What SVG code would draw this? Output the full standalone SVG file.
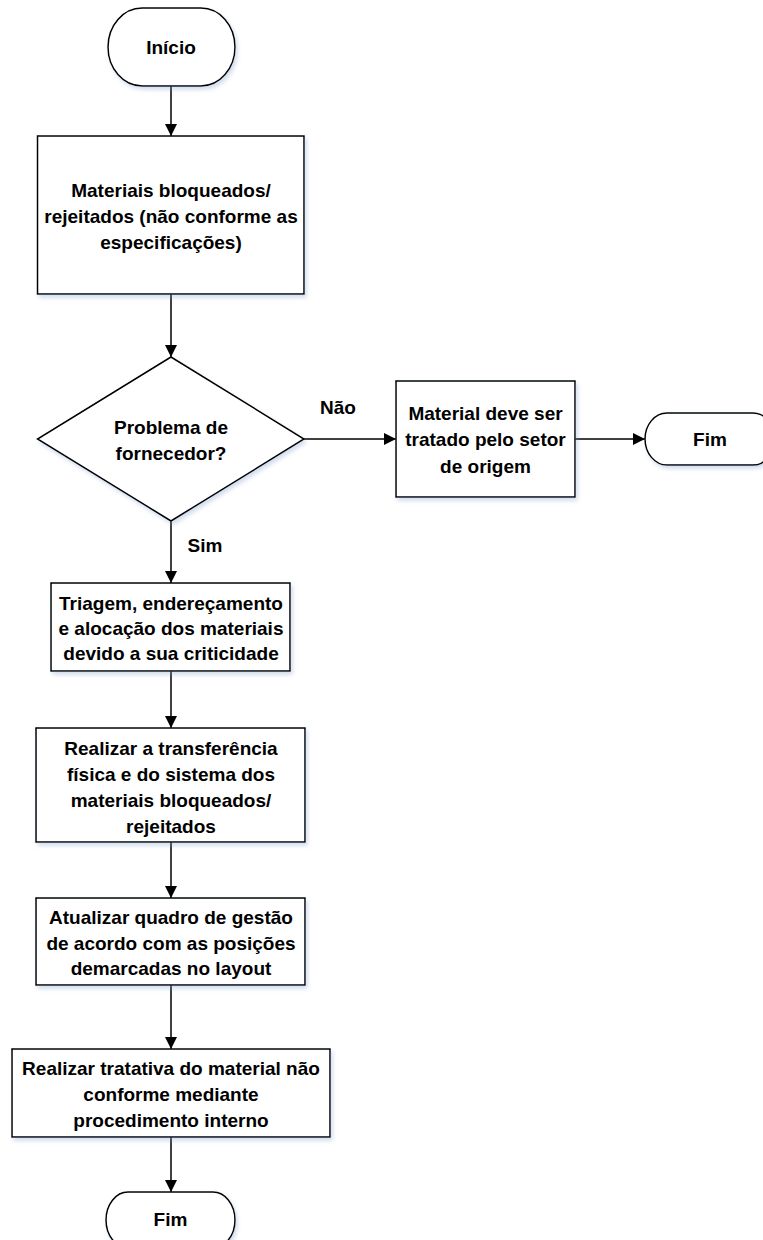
<svg xmlns="http://www.w3.org/2000/svg" width="763" height="1240" viewBox="0 0 763 1240">
<defs>
<style>
.shape{fill:#ffffff;stroke:#000000;stroke-width:1.5;filter:url(#sh);}
.t{font-family:"Liberation Sans",Arial,sans-serif;font-weight:bold;font-size:19px;fill:#000000;text-anchor:middle;}
.c{fill:none;stroke:#000000;stroke-width:1.5;marker-end:url(#arr);}
</style>
<filter id="sh" x="-10%" y="-10%" width="125%" height="130%">
<feDropShadow dx="2" dy="3" stdDeviation="2" flood-color="#7f9cc9" flood-opacity="0.35"/>
</filter>
<marker id="arr" markerUnits="userSpaceOnUse" markerWidth="12" markerHeight="12" refX="12" refY="6" orient="auto">
<path d="M0,0 L12,6 L0,12 z" fill="#000000"/>
</marker>
</defs>
<rect width="763" height="1240" fill="#ffffff"/>

<g id="connectors">
<line class="c" x1="171" y1="86" x2="171" y2="136"/>
<line class="c" x1="171" y1="294" x2="171" y2="357"/>
<line class="c" x1="304" y1="439" x2="396" y2="439"/>
<line class="c" x1="575" y1="439" x2="645" y2="439"/>
<line class="c" x1="171" y1="521" x2="171" y2="583"/>
<line class="c" x1="171" y1="671" x2="171" y2="728"/>
<line class="c" x1="171" y1="842" x2="171" y2="898"/>
<line class="c" x1="171" y1="985" x2="171" y2="1049"/>
<line class="c" x1="171" y1="1137" x2="171" y2="1192"/>
<text class="t" x="338" y="414">Não</text>
<text class="t" x="205" y="552">Sim</text>
</g>

<g id="inicio">
<rect class="shape" x="108" y="8" width="127" height="78" rx="34" ry="39"/>
<text class="t" x="171" y="54">Início</text>
</g>

<g id="materiais">
<rect class="shape" x="37.5" y="136" width="266.5" height="158"/>
<text class="t" x="171" y="196.5">Materiais bloqueados/</text>
<text class="t" x="171" y="222.5">rejeitados (não conforme as</text>
<text class="t" x="171" y="248.5">especificações)</text>
</g>

<g id="decisao">
<polygon class="shape" points="171,357 304,439 171,521 37.5,439"/>
<text class="t" x="171" y="433.5">Problema de</text>
<text class="t" x="171" y="459.5">fornecedor?</text>
</g>

<g id="setor">
<rect class="shape" x="396" y="381" width="179" height="116"/>
<text class="t" x="485.5" y="419.5">Material deve ser</text>
<text class="t" x="485.5" y="446">tratado pelo setor</text>
<text class="t" x="485.5" y="473">de origem</text>
</g>

<g id="fim1">
<rect class="shape" x="645" y="413" width="130" height="52" rx="22" ry="26"/>
<text class="t" x="710" y="445.5">Fim</text>
</g>

<g id="triagem">
<rect class="shape" x="51" y="583" width="239" height="88"/>
<text class="t" x="171" y="609.5">Triagem, endereçamento</text>
<text class="t" x="171" y="634.5">e alocação dos materiais</text>
<text class="t" x="171" y="659.5">devido a sua criticidade</text>
</g>

<g id="transferencia">
<rect class="shape" x="36" y="728" width="269" height="114"/>
<text class="t" x="171" y="754.5">Realizar a transferência</text>
<text class="t" x="171" y="780.5">física e do sistema dos</text>
<text class="t" x="171" y="806.5">materiais bloqueados/</text>
<text class="t" x="171" y="832.5">rejeitados</text>
</g>

<g id="quadro">
<rect class="shape" x="36" y="898" width="269" height="87"/>
<text class="t" x="171" y="923.5">Atualizar quadro de gestão</text>
<text class="t" x="171" y="949.5">de acordo com as posições</text>
<text class="t" x="171" y="974.5">demarcadas no layout</text>
</g>

<g id="tratativa">
<rect class="shape" x="12" y="1049" width="318" height="88"/>
<text class="t" x="171" y="1074.5">Realizar tratativa do material não</text>
<text class="t" x="171" y="1100.5">conforme mediante</text>
<text class="t" x="171" y="1126.5">procedimento interno</text>
</g>

<g id="fim2">
<rect class="shape" x="106" y="1192" width="129" height="56" rx="22" ry="28"/>
<text class="t" x="170.5" y="1225.5">Fim</text>
</g>
</svg>
